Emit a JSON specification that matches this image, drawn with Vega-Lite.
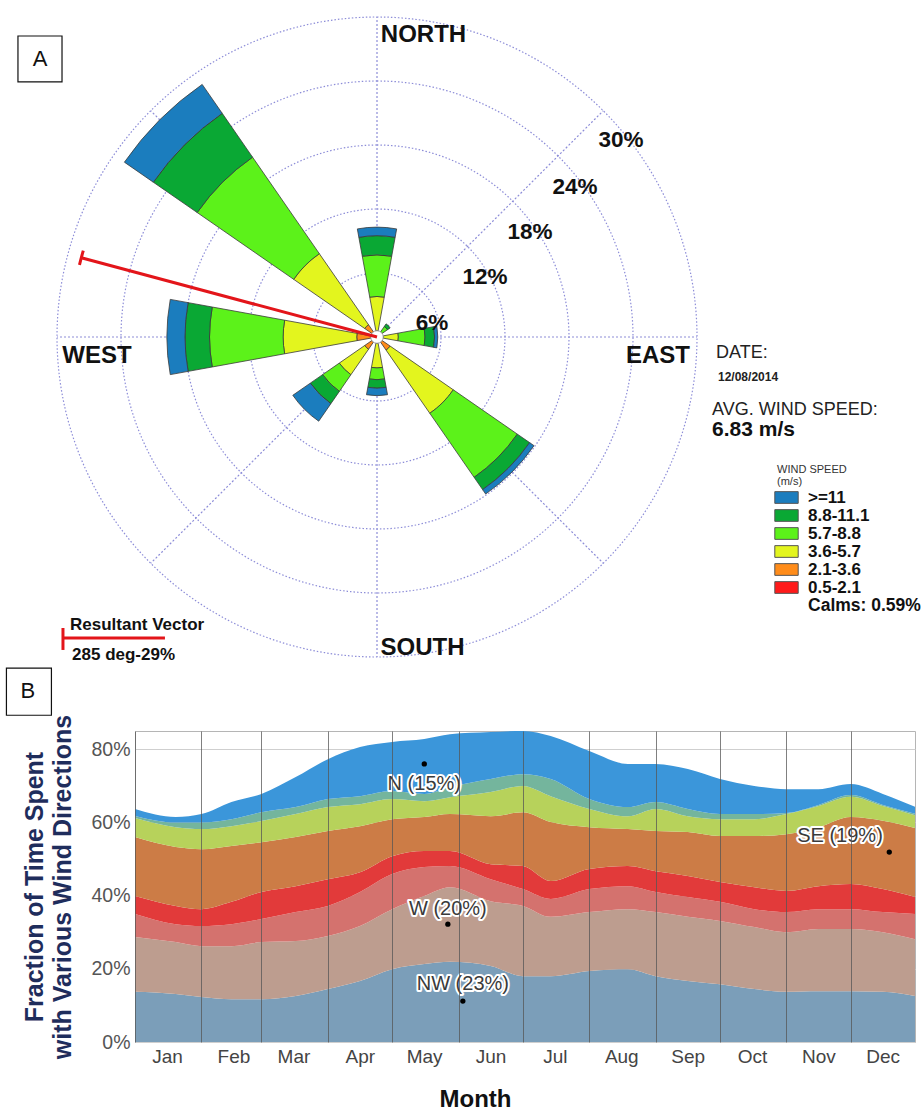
{
"$schema":"https://vega.github.io/schema/vega-lite/v6.json",
"background":"white",
"padding":{"left":5,"top":0,"right":0,"bottom":0},
"config":{"font":"Liberation Sans","view":{"stroke":null}},
"spacing":-8,
"resolve":{"scale":{"x":"independent","y":"independent","color":"independent"},"legend":{"color":"independent"}},
"vconcat":[
{
"width":484,"height":674,
"view":{"stroke":null},
"layer":[
{"data":{"values":[{"ring":6},{"ring":12},{"ring":18},{"ring":24},{"ring":30}]},
 "mark":{"type":"arc","filled":false,"stroke":"#8d8dd8","strokeWidth":1.2,"strokeDash":[1.5,2],"theta":0,"theta2":6.2832},
 "encoding":{"radius":{"field":"ring","type":"quantitative","stack":null,"scale":{"type":"linear","domain":[0,30],"range":[0,320],"zero":true,"nice":false}}}},
{"data":{"values":[{"ang":0},{"ang":45},{"ang":90},{"ang":135},{"ang":180},{"ang":225},{"ang":270},{"ang":315}]},
 "mark":{"type":"arc","filled":false,"stroke":"#8d8dd8","strokeWidth":1.2,"strokeDash":[1,3]},
 "encoding":{
  "theta":{"field":"ang","type":"quantitative","stack":null,"scale":{"type":"linear","domain":[0,360],"range":[0,6.283185307]}},
  "theta2":{"field":"ang"},
  "radius":{"datum":30,"type":"quantitative","stack":null,"scale":{"type":"linear","domain":[0,30],"range":[0,320],"zero":true,"nice":false}},
  "radius2":{"datum":0}}},
{"data":{"values":[
{"dir":0,"speed":"3.6-5.7","r0":0.59,"r1":3.8},
{"dir":0,"speed":"5.7-8.8","r0":3.8,"r1":7.7},
{"dir":0,"speed":"8.8-11.1","r0":7.7,"r1":9.5},
{"dir":0,"speed":">=11","r0":9.5,"r1":10.3},
{"dir":45,"speed":"5.7-8.8","r0":0.59,"r1":1.2},
{"dir":45,"speed":"8.8-11.1","r0":1.2,"r1":1.5},
{"dir":90,"speed":"3.6-5.7","r0":0.59,"r1":2.0},
{"dir":90,"speed":"5.7-8.8","r0":2.0,"r1":4.5},
{"dir":90,"speed":"8.8-11.1","r0":4.5,"r1":5.4},
{"dir":90,"speed":">=11","r0":5.4,"r1":5.7},
{"dir":135,"speed":"2.1-3.6","r0":0.59,"r1":1.5},
{"dir":135,"speed":"3.6-5.7","r0":1.5,"r1":8.7},
{"dir":135,"speed":"5.7-8.8","r0":8.7,"r1":16.0},
{"dir":135,"speed":"8.8-11.1","r0":16.0,"r1":17.4},
{"dir":135,"speed":">=11","r0":17.4,"r1":17.9},
{"dir":180,"speed":"3.6-5.7","r0":0.59,"r1":2.9},
{"dir":180,"speed":"5.7-8.8","r0":2.9,"r1":4.0},
{"dir":180,"speed":"8.8-11.1","r0":4.0,"r1":4.8},
{"dir":180,"speed":">=11","r0":4.8,"r1":5.5},
{"dir":225,"speed":"2.1-3.6","r0":0.59,"r1":1.4},
{"dir":225,"speed":"3.6-5.7","r0":1.4,"r1":4.3},
{"dir":225,"speed":"5.7-8.8","r0":4.3,"r1":6.2},
{"dir":225,"speed":"8.8-11.1","r0":6.2,"r1":7.6},
{"dir":225,"speed":">=11","r0":7.6,"r1":9.6},
{"dir":270,"speed":"2.1-3.6","r0":0.59,"r1":1.9},
{"dir":270,"speed":"3.6-5.7","r0":1.9,"r1":8.8},
{"dir":270,"speed":"5.7-8.8","r0":8.8,"r1":15.7},
{"dir":270,"speed":"8.8-11.1","r0":15.7,"r1":18.0},
{"dir":270,"speed":">=11","r0":18.0,"r1":19.7},
{"dir":315,"speed":"2.1-3.6","r0":0.59,"r1":1.4},
{"dir":315,"speed":"3.6-5.7","r0":1.4,"r1":9.5},
{"dir":315,"speed":"5.7-8.8","r0":9.5,"r1":20.5},
{"dir":315,"speed":"8.8-11.1","r0":20.5,"r1":25.5},
{"dir":315,"speed":">=11","r0":25.5,"r1":28.8}
]},
 "mark":{"type":"arc","stroke":"#3a3a3a","strokeWidth":0.8,"thetaOffset":-0.18,"theta2Offset":0.18,"opacity":1},
 "encoding":{
  "theta":{"field":"dir","type":"quantitative","stack":null,"scale":{"type":"linear","domain":[0,360],"range":[0,6.283185307]}},
  "theta2":{"field":"dir"},
  "radius":{"field":"r1","type":"quantitative","stack":null,"scale":{"type":"linear","domain":[0,30],"range":[0,320],"zero":true,"nice":false}},
  "radius2":{"field":"r0"},
  "color":{"field":"speed","type":"nominal",
   "scale":{"domain":[">=11","8.8-11.1","5.7-8.8","3.6-5.7","2.1-3.6","0.5-2.1"],"range":["#1b7dbe","#0aa834","#5cf21a","#e3f51e","#ff8c1a","#ff1a1a"]},
   "legend":{"orient":"none","legendX":642,"legendY":464,"direction":"vertical","title":["WIND SPEED","(m/s)"],"titleFontSize":11,"titleFontWeight":"normal","titleColor":"#333","titleLineHeight":12,"titlePadding":1,"labelFontSize":17,"labelFontWeight":"bold","labelColor":"#111","symbolType":"M-1.3,-0.65H1.3V0.65H-1.3Z","symbolSize":324,"symbolStrokeColor":"#555","symbolStrokeWidth":1,"symbolOpacity":1,"labelOffset":12,"rowPadding":0}}}},
{"data":{"values":[{"calm":0.59}]},
 "mark":{"type":"arc","fill":"white","stroke":"#888","strokeWidth":0.8,"theta":0,"theta2":6.2832},
 "encoding":{"radius":{"field":"calm","type":"quantitative","stack":null,"scale":{"type":"linear","domain":[0,30],"range":[0,320],"zero":true,"nice":false}}}},
{"data":{"values":[{"dir":285,"pct":28.7}]},
 "mark":{"type":"arc","filled":false,"stroke":"#e3151a","strokeWidth":3},
 "encoding":{
  "theta":{"field":"dir","type":"quantitative","stack":null,"scale":{"type":"linear","domain":[0,360],"range":[0,6.283185307]}},
  "theta2":{"field":"dir"},
  "radius":{"field":"pct","type":"quantitative","stack":null,"scale":{"type":"linear","domain":[0,30],"range":[0,320],"zero":true,"nice":false}},
  "radius2":{"datum":0}}},
{"data":{"values":[{"dir":285,"pct":28.7}]},
 "mark":{"type":"arc","filled":false,"stroke":"#e3151a","strokeWidth":3,"thetaOffset":-0.024,"theta2Offset":0.024},
 "encoding":{
  "theta":{"field":"dir","type":"quantitative","stack":null,"scale":{"type":"linear","domain":[0,360],"range":[0,6.283185307]}},
  "theta2":{"field":"dir"},
  "radius":{"field":"pct","type":"quantitative","stack":null,"scale":{"type":"linear","domain":[0,30],"range":[0,320],"zero":true,"nice":false}},
  "radius2":{"field":"pct"}}},
{"data":{"values":[{"t":"NORTH","x":4.36,"y":28.31},{"t":"EAST","x":26.34,"y":-1.78},{"t":"SOUTH","x":4.27,"y":-29.16},{"t":"WEST","x":-26.25,"y":-1.78}]},
 "mark":{"type":"text","fontSize":24,"fontWeight":"bold","color":"#111","align":"center","baseline":"middle"},
 "encoding":{"x":{"field":"x","type":"quantitative","scale":{"domain":[-22.6875,22.6875],"nice":false,"zero":false},"axis":null},"y":{"field":"y","type":"quantitative","scale":{"domain":[-31.594,31.594],"nice":false,"zero":false},"axis":null},"text":{"field":"t"}}},
{"data":{"values":[{"t":"6%","x":5.16,"y":1.31},{"t":"12%","x":10.12,"y":5.62},{"t":"18%","x":14.34,"y":9.84},{"t":"24%","x":18.56,"y":14.06},{"t":"30%","x":22.87,"y":18.47}]},
 "mark":{"type":"text","fontSize":22.5,"fontWeight":"bold","color":"#111","align":"center","baseline":"middle"},
 "encoding":{"x":{"field":"x","type":"quantitative","scale":{"domain":[-22.6875,22.6875],"nice":false,"zero":false},"axis":null},"y":{"field":"y","type":"quantitative","scale":{"domain":[-31.594,31.594],"nice":false,"zero":false},"axis":null},"text":{"field":"t"}}},
{"data":{"values":[{"t":"DATE:","x":31.78,"y":-1.5},{"t":"AVG. WIND SPEED:","x":31.41,"y":-6.84}]},
 "mark":{"type":"text","fontSize":18,"color":"#222","align":"left","baseline":"middle"},
 "encoding":{"x":{"field":"x","type":"quantitative","scale":{"domain":[-22.6875,22.6875],"nice":false,"zero":false},"axis":null},"y":{"field":"y","type":"quantitative","scale":{"domain":[-31.594,31.594],"nice":false,"zero":false},"axis":null},"text":{"field":"t"}}},
{"data":{"values":[{"t":"12/08/2014","x":31.97,"y":-3.75}]},
 "mark":{"type":"text","fontSize":12,"fontWeight":"bold","color":"#222","align":"left","baseline":"middle"},
 "encoding":{"x":{"field":"x","type":"quantitative","scale":{"domain":[-22.6875,22.6875],"nice":false,"zero":false},"axis":null},"y":{"field":"y","type":"quantitative","scale":{"domain":[-31.594,31.594],"nice":false,"zero":false},"axis":null},"text":{"field":"t"}}},
{"data":{"values":[{"t":"6.83 m/s","x":31.41,"y":-8.72}]},
 "mark":{"type":"text","fontSize":21,"fontWeight":"bold","color":"#111","align":"left","baseline":"middle"},
 "encoding":{"x":{"field":"x","type":"quantitative","scale":{"domain":[-22.6875,22.6875],"nice":false,"zero":false},"axis":null},"y":{"field":"y","type":"quantitative","scale":{"domain":[-31.594,31.594],"nice":false,"zero":false},"axis":null},"text":{"field":"t"}}},
{"data":{"values":[{"t":"Calms: 0.59%","x":40.41,"y":-25.22}]},
 "mark":{"type":"text","fontSize":17.5,"fontWeight":"bold","color":"#111","align":"left","baseline":"middle"},
 "encoding":{"x":{"field":"x","type":"quantitative","scale":{"domain":[-22.6875,22.6875],"nice":false,"zero":false},"axis":null},"y":{"field":"y","type":"quantitative","scale":{"domain":[-31.594,31.594],"nice":false,"zero":false},"axis":null},"text":{"field":"t"}}},
{"data":{"values":[{"t":"Resultant Vector","x":-28.78,"y":-27.0},{"t":"285 deg-29%","x":-28.59,"y":-29.81}]},
 "mark":{"type":"text","fontSize":17,"fontWeight":"bold","color":"#111","align":"left","baseline":"middle"},
 "encoding":{"x":{"field":"x","type":"quantitative","scale":{"domain":[-22.6875,22.6875],"nice":false,"zero":false},"axis":null},"y":{"field":"y","type":"quantitative","scale":{"domain":[-31.594,31.594],"nice":false,"zero":false},"axis":null},"text":{"field":"t"}}},
{"data":{"values":[{"x0":-29.44,"x1":-19.88,"y":-28.22}]},
 "mark":{"type":"rule","color":"#e3151a","strokeWidth":3},
 "encoding":{"x":{"field":"x0","type":"quantitative","scale":{"domain":[-22.6875,22.6875],"nice":false,"zero":false},"axis":null},"x2":{"field":"x1"},"y":{"field":"y","type":"quantitative","scale":{"domain":[-31.594,31.594],"nice":false,"zero":false},"axis":null}}},
{"data":{"values":[{"x":-29.44,"y0":-27.28,"y1":-29.34}]},
 "mark":{"type":"rule","color":"#e3151a","strokeWidth":3},
 "encoding":{"x":{"field":"x","type":"quantitative","scale":{"domain":[-22.6875,22.6875],"nice":false,"zero":false},"axis":null},"y":{"field":"y0","type":"quantitative","scale":{"domain":[-31.594,31.594],"nice":false,"zero":false},"axis":null},"y2":{"field":"y1"}}},
{"data":{"values":[{"x0":-33.66,"x1":-29.53,"y0":28.22,"y1":23.91}]},
 "mark":{"type":"rect","filled":false,"stroke":"#111","strokeWidth":1.2},
 "encoding":{"x":{"field":"x0","type":"quantitative","scale":{"domain":[-22.6875,22.6875],"nice":false,"zero":false},"axis":null},"x2":{"field":"x1"},"y":{"field":"y0","type":"quantitative","scale":{"domain":[-31.594,31.594],"nice":false,"zero":false},"axis":null},"y2":{"field":"y1"}}},
{"data":{"values":[{"t":"A","x":-31.59,"y":26.06}]},
 "mark":{"type":"text","fontSize":22,"color":"#111","align":"center","baseline":"middle"},
 "encoding":{"x":{"field":"x","type":"quantitative","scale":{"domain":[-22.6875,22.6875],"nice":false,"zero":false},"axis":null},"y":{"field":"y","type":"quantitative","scale":{"domain":[-31.594,31.594],"nice":false,"zero":false},"axis":null},"text":{"field":"t"}}}
]
},
{
"width":780,"height":311,
"view":{"stroke":"#b5b5b5"},
"layer":[
{"data":{"values":[
{"d":"2014-01-01","1NW":13.7,"2W":15.0,"3SW":6.3,"4S":4.9,"5SE":16.1,"6E":5.2,"7NE":0.6,"8N":1.9},
{"d":"2014-01-20","1NW":13.1,"2W":14.2,"3SW":4.9,"4S":5.0,"5SE":16.1,"6E":5.4,"7NE":1.3,"8N":1.5},
{"d":"2014-02-01","1NW":12.3,"2W":13.9,"3SW":5.5,"4S":4.6,"5SE":16.4,"6E":5.5,"7NE":1.8,"8N":2.3},
{"d":"2014-02-15","1NW":11.7,"2W":14.5,"3SW":6.0,"4S":6.1,"5SE":15.3,"6E":5.4,"7NE":1.9,"8N":4.7},
{"d":"2014-03-01","1NW":11.7,"2W":15.6,"3SW":6.3,"4S":7.4,"5SE":13.6,"6E":5.8,"7NE":2.4,"8N":5.0},
{"d":"2014-03-17","1NW":12.6,"2W":15.0,"3SW":7.9,"4S":7.1,"5SE":13.4,"6E":6.3,"7NE":1.9,"8N":8.2},
{"d":"2014-04-01","1NW":14.5,"2W":14.5,"3SW":8.2,"4S":7.3,"5SE":13.2,"6E":6.5,"7NE":2.2,"8N":10.9},
{"d":"2014-04-16","1NW":16.7,"2W":15.0,"3SW":9.3,"4S":5.4,"5SE":12.6,"6E":6.0,"7NE":2.2,"8N":13.4},
{"d":"2014-05-01","1NW":19.9,"2W":16.4,"3SW":9.6,"4S":4.9,"5SE":10.1,"6E":5.5,"7NE":2.2,"8N":13.4},
{"d":"2014-05-16","1NW":21.3,"2W":18.6,"3SW":7.9,"4S":4.4,"5SE":9.3,"6E":4.3,"7NE":2.0,"8N":15.0},
{"d":"2014-05-28","1NW":21.9,"2W":20.4,"3SW":5.8,"4S":4.1,"5SE":10.1,"6E":4.6,"7NE":2.8,"8N":14.4},
{"d":"2014-06-16","1NW":20.8,"2W":17.7,"3SW":6.0,"4S":4.1,"5SE":13.1,"6E":6.6,"7NE":3.6,"8N":12.8},
{"d":"2014-07-01","1NW":18.0,"2W":19.2,"3SW":4.6,"4S":6.3,"5SE":14.7,"6E":7.2,"7NE":3.2,"8N":11.8},
{"d":"2014-07-14","1NW":18.0,"2W":16.2,"3SW":4.9,"4S":4.9,"5SE":16.1,"6E":7.1,"7NE":4.7,"8N":11.7},
{"d":"2014-08-01","1NW":19.4,"2W":16.1,"3SW":6.3,"4S":5.5,"5SE":11.4,"6E":5.0,"7NE":2.7,"8N":13.1},
{"d":"2014-08-19","1NW":19.9,"2W":16.4,"3SW":6.3,"4S":5.5,"5SE":10.1,"6E":3.5,"7NE":2.5,"8N":11.8},
{"d":"2014-09-01","1NW":18.0,"2W":17.5,"3SW":5.5,"4S":5.7,"5SE":11.0,"6E":6.0,"7NE":1.9,"8N":10.4},
{"d":"2014-09-16","1NW":16.7,"2W":17.5,"3SW":5.4,"4S":5.8,"5SE":12.0,"6E":4.3,"7NE":2.0,"8N":10.9},
{"d":"2014-10-01","1NW":15.8,"2W":17.3,"3SW":5.2,"4S":5.4,"5SE":12.6,"6E":4.6,"7NE":1.4,"8N":9.6},
{"d":"2014-10-17","1NW":14.5,"2W":16.9,"3SW":4.9,"4S":6.0,"5SE":14.0,"6E":4.6,"7NE":1.4,"8N":7.7},
{"d":"2014-11-01","1NW":13.7,"2W":16.3,"3SW":5.5,"4S":5.8,"5SE":15.5,"6E":5.5,"7NE":0.3,"8N":6.5},
{"d":"2014-11-16","1NW":13.9,"2W":17.0,"3SW":5.4,"4S":6.3,"5SE":16.1,"6E":5.8,"7NE":0.3,"8N":4.3},
{"d":"2014-12-01","1NW":13.9,"2W":17.0,"3SW":5.4,"4S":6.9,"5SE":18.3,"6E":5.5,"7NE":0.5,"8N":3.0},
{"d":"2014-12-16","1NW":13.7,"2W":16.3,"3SW":5.5,"4S":6.3,"5SE":18.7,"6E":4.0,"7NE":0.3,"8N":3.0},
{"d":"2014-12-31","1NW":12.6,"2W":15.5,"3SW":6.9,"4S":4.6,"5SE":18.9,"6E":3.5,"7NE":0.4,"8N":1.9}
]},
 "transform":[{"fold":["1NW","2W","3SW","4S","5SE","6E","7NE","8N"],"as":["dir","v"]}],
 "mark":{"type":"area","interpolate":"monotone","opacity":1},
 "encoding":{
  "x":{"field":"d","type":"temporal","scale":{"type":"utc","domain":[{"year":2014,"month":1,"date":1,"utc":true},{"year":2014,"month":12,"date":31,"utc":true}]},
   "axis":{"title":"Month","tickCount":{"interval":"month","step":1},"labelExpr":"utcFormat(datum.value, '%b')","labelOffset":32,"labelAlign":"center","labelFlush":false,"labelOverlap":false,"grid":true,"gridColor":"#555","gridOpacity":0.75,"gridWidth":1,"ticks":false,"domain":false,"labelFontSize":19,"labelColor":"#444","labelPadding":5,"titleFontSize":24,"titleFontWeight":"bold","titleColor":"#111","titleX":340,"titleY":57,"titleBaseline":"middle","titleAlign":"center","zindex":1}},
  "y":{"field":"v","type":"quantitative","stack":"zero","scale":{"domain":[0,85],"nice":false},
   "axis":{"title":["Fraction of Time Spent","with Various Wind Directions"],"values":[0,20,40,60,80],"labelExpr":"datum.value + '%'","grid":true,"gridColor":"#cfcfcf","ticks":false,"domain":false,"labelFontSize":19.5,"labelColor":"#555","labelPadding":5,"titleFontSize":25,"titleFontWeight":"bold","titleColor":"#1f2d5c","titleLineHeight":28,"titlePadding":15,"zindex":0}},
  "color":{"field":"dir","type":"nominal","legend":null,
   "scale":{"domain":["1NW","2W","3SW","4S","5SE","6E","7NE","8N"],"range":["#7b9eb9","#bd9d8f","#d4726e","#e23a3a","#cc7c46","#b7d25b","#74b59d","#3b96da"]}},
  "order":{"field":"dir","sort":"ascending"}}},
{"data":{"values":[{"d":"2014-05-16","v":76.0},{"d":"2014-05-27","v":32.2},{"d":"2014-06-03","v":11.2},{"d":"2014-12-19","v":51.9}]},
 "mark":{"type":"circle","color":"#000","size":28,"opacity":1},
 "encoding":{"x":{"field":"d","type":"temporal"},"y":{"field":"v","type":"quantitative"}}},
{"data":{"values":[{"d":"2014-05-16","v":70.5,"t":"N (15%)"},{"d":"2014-05-27","v":36.3,"t":"W (20%)"},{"d":"2014-06-03","v":15.8,"t":"NW (23%)"},{"d":"2014-11-26","v":56.3,"t":"SE (19%)"}]},
 "mark":{"type":"text","fontSize":20,"fill":"#fff","stroke":"#fff","strokeWidth":4,"strokeJoin":"round","align":"center","baseline":"middle"},
 "encoding":{"x":{"field":"d","type":"temporal"},"y":{"field":"v","type":"quantitative"},"text":{"field":"t"}}},
{"data":{"values":[{"d":"2014-05-16","v":70.5,"t":"N (15%)"},{"d":"2014-05-27","v":36.3,"t":"W (20%)"},{"d":"2014-06-03","v":15.8,"t":"NW (23%)"},{"d":"2014-11-26","v":56.3,"t":"SE (19%)"}]},
 "mark":{"type":"text","fontSize":20,"color":"#3a3a3a","align":"center","baseline":"middle"},
 "encoding":{"x":{"field":"d","type":"temporal"},"y":{"field":"v","type":"quantitative"},"text":{"field":"t"}}},
{"data":{"values":[{"d0":"2013-11-02","d1":"2013-11-23","v0":89.3,"v1":102.2}]},
 "mark":{"type":"rect","filled":false,"stroke":"#111","strokeWidth":1.2},
 "encoding":{"x":{"field":"d0","type":"temporal"},"x2":{"field":"d1"},"y":{"field":"v0","type":"quantitative"},"y2":{"field":"v1"}}},
{"data":{"values":[{"d":"2013-11-12","v":95.9,"t":"B"}]},
 "mark":{"type":"text","fontSize":22,"color":"#111","align":"center","baseline":"middle"},
 "encoding":{"x":{"field":"d","type":"temporal"},"y":{"field":"v","type":"quantitative"},"text":{"field":"t"}}}
]
}
]
}
